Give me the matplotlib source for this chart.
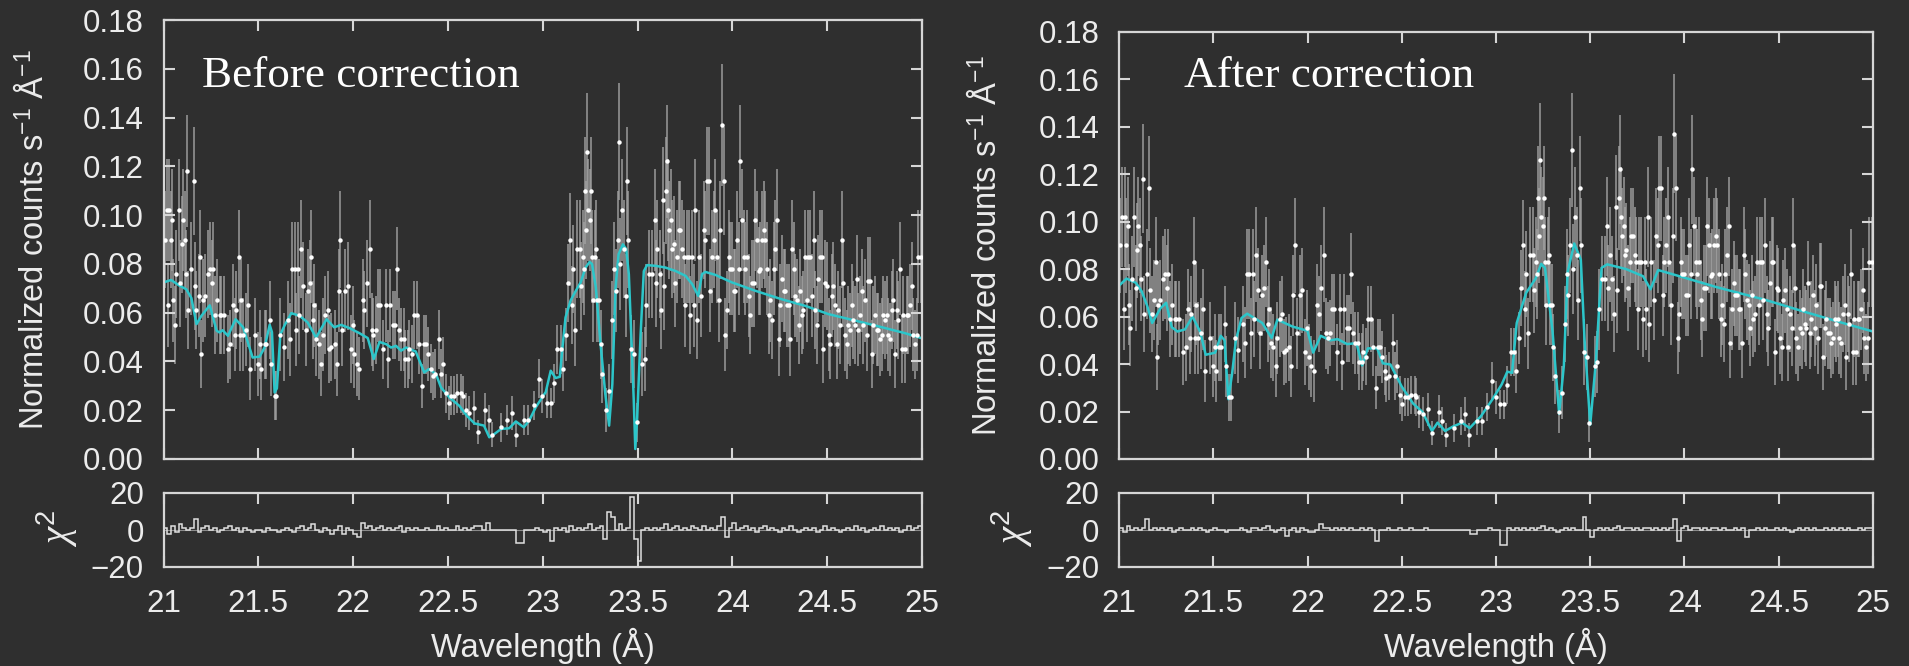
import numpy as np
import matplotlib
matplotlib.use("Agg")
import matplotlib.pyplot as plt
from matplotlib.ticker import FormatStrFormatter, FuncFormatter

plt.rcParams['font.family'] = ['Liberation Sans', 'DejaVu Sans']
plt.rcParams['mathtext.fontset'] = 'custom'
plt.rcParams['mathtext.rm'] = 'Liberation Sans'
plt.rcParams['mathtext.it'] = 'Liberation Serif:italic'

BG = "#2f2f2f"
FG = "#ececec"
SPINE = "#d6d6d6"
CYAN = "#2cc6ca"

# Observed spectrum (same data in both fits)
# wavelength offsets in mA from 21 A; flux and 1-sigma errors in 1e-3 counts/s/A
obs_wl_mA = [
    7, 16, 25, 30, 39, 47, 51, 60, 68, 82,
    89, 96, 103, 112, 118, 125, 130, 147, 160, 167,
    174, 186, 195, 200, 209, 219, 235, 244, 256, 261,
    270, 282, 296, 305, 317, 340, 353, 367, 375, 384,
    396, 402, 410, 419, 433, 446, 454, 481, 498, 507,
    516, 533, 542, 560, 568, 586, 595, 616, 633, 656,
    668, 679, 691, 700, 709, 717, 726, 738, 749, 761,
    770, 779, 788, 796, 805, 819, 831, 840, 854, 866,
    875, 884, 902, 914, 924, 933, 942, 959, 972, 989,
    998, 1007, 1021, 1033, 1051, 1059, 1072, 1089, 1098, 1107,
    1121, 1130, 1142, 1156, 1173, 1182, 1194, 1209, 1221, 1230,
    1244, 1252, 1266, 1275, 1287, 1296, 1308, 1323, 1335, 1349,
    1361, 1375, 1384, 1396, 1410, 1419, 1433, 1451, 1463, 1475,
    1489, 1503, 1515, 1533, 1547, 1568, 1577, 1594, 1612, 1638,
    1661, 1696, 1714, 1735, 1779, 1814, 1836, 1857, 1901, 1924,
    1954, 1980, 1998, 2021, 2042, 2059, 2077, 2094, 2107, 2121,
    2135, 2142, 2152, 2159, 2168, 2182, 2195, 2203, 2212, 2217,
    2221, 2230, 2235, 2240, 2249, 2253, 2258, 2267, 2275, 2282,
    2288, 2296, 2305, 2314, 2332, 2349, 2367, 2377, 2384, 2395,
    2402, 2410, 2419, 2428, 2437, 2446, 2451, 2465, 2481, 2496,
    2526, 2537, 2547, 2560, 2577, 2591, 2595, 2603, 2616, 2626,
    2635, 2642, 2651, 2656, 2661, 2668, 2677, 2682, 2691, 2700,
    2709, 2717, 2726, 2735, 2744, 2752, 2761, 2770, 2779, 2788,
    2796, 2805, 2814, 2823, 2837, 2849, 2858, 2866, 2875, 2884,
    2893, 2902, 2910, 2919, 2928, 2937, 2945, 2954, 2963, 2972,
    2980, 2989, 2998, 3007, 3016, 3024, 3033, 3042, 3051, 3059,
    3068, 3077, 3086, 3094, 3103, 3112, 3121, 3130, 3138, 3147,
    3156, 3165, 3173, 3182, 3191, 3200, 3209, 3217, 3226, 3235,
    3244, 3252, 3261, 3270, 3279, 3287, 3296, 3305, 3314, 3323,
    3331, 3340, 3349, 3358, 3366, 3375, 3384, 3393, 3401, 3410,
    3419, 3428, 3437, 3445, 3454, 3463, 3472, 3480, 3489, 3498,
    3507, 3515, 3524, 3533, 3542, 3551, 3559, 3568, 3577, 3586,
    3594, 3603, 3612, 3621, 3629, 3638, 3647, 3656, 3665, 3673,
    3682, 3691, 3700, 3708, 3717, 3726, 3735, 3743, 3752, 3761,
    3770, 3779, 3787, 3796, 3805, 3814, 3822, 3831, 3840, 3849,
    3857, 3866, 3875, 3884, 3893, 3901, 3910, 3919, 3928, 3936,
    3945, 3954, 3963, 3972, 3980, 3996,
]
obs_flux = [
    90, 102, 63, 102, 90, 98, 65, 55, 76, 102,
    72, 88, 98, 90, 76, 118, 61, 78, 114, 71,
    61, 67, 83, 43, 65, 67, 76, 78, 72, 78,
    59, 65, 59, 59, 59, 45, 47, 63, 51, 61,
    83, 51, 65, 51, 53, 63, 37, 51, 39, 47,
    37, 47, 47, 57, 39, 26, 26, 51, 46, 57,
    49, 78, 78, 53, 78, 59, 86, 71, 53, 69,
    72, 83, 57, 63, 49, 47, 39, 51, 59, 61,
    45, 46, 47, 39, 69, 90, 53, 69, 71, 45,
    55, 43, 39, 37, 65, 61, 72, 86, 53, 51,
    53, 63, 63, 45, 63, 41, 63, 55, 55, 78,
    53, 49, 49, 41, 41, 45, 43, 59, 59, 47,
    30, 47, 47, 43, 37, 34, 35, 49, 35, 39,
    27, 23, 26, 26, 27, 27, 26, 20, 19, 21,
    11, 20, 16, 10, 13, 16, 19, 10, 16, 16,
    22, 33, 26, 23, 23, 31, 45, 45, 37, 51,
    72, 90, 63, 78, 53, 86, 86, 71, 83, 78,
    110, 94, 126, 102, 98, 110, 83, 65, 83, 86,
    65, 65, 47, 35, 20, 28, 57, 78, 69, 90,
    130, 80, 102, 86, 67, 114, 90, 45, 43, 15,
    39, 41, 63, 76, 76, 98, 72, 86, 76, 61,
    106, 71, 110, 122, 102, 94, 98, 86, 88, 72,
    83, 94, 94, 86, 83, 63, 83, 83, 59, 83,
    63, 102, 57, 83, 67, 94, 90, 114, 114, 69,
    83, 90, 102, 83, 65, 94, 137, 114, 51, 61,
    83, 78, 78, 69, 69, 90, 78, 122, 98, 83,
    78, 83, 67, 59, 72, 72, 98, 90, 77, 78,
    90, 94, 90, 78, 59, 65, 57, 78, 86, 98,
    49, 63, 74, 69, 69, 63, 63, 49, 86, 78,
    67, 65, 55, 69, 59, 61, 83, 65, 83, 83,
    67, 90, 61, 55, 74, 83, 83, 45, 72, 71,
    51, 47, 67, 71, 63, 47, 61, 55, 90, 72,
    51, 47, 55, 53, 63, 57, 55, 74, 53, 59,
    69, 55, 65, 51, 73, 73, 43, 55, 59, 53,
    53, 49, 51, 59, 57, 59, 51, 49, 61, 65,
    43, 61, 57, 78, 45, 59, 45, 59, 59, 63,
    71, 51, 47, 51, 83, 83,
]
obs_err = [
    20, 21, 17, 21, 20, 21, 17, 16, 18, 21,
    18, 20, 21, 20, 18, 23, 16, 19, 22, 18,
    16, 17, 19, 14, 17, 17, 18, 19, 18, 19,
    16, 17, 16, 16, 16, 14, 14, 17, 15, 16,
    19, 15, 17, 15, 15, 17, 13, 15, 13, 14,
    13, 14, 14, 16, 13, 10, 10, 15, 14, 16,
    15, 19, 19, 15, 19, 16, 20, 18, 15, 17,
    18, 19, 16, 17, 15, 14, 13, 15, 16, 16,
    14, 14, 14, 13, 17, 20, 15, 17, 18, 14,
    16, 14, 13, 13, 17, 16, 18, 20, 15, 15,
    14, 15, 15, 12, 15, 12, 15, 14, 14, 17,
    13, 13, 13, 12, 12, 12, 12, 14, 14, 12,
    9, 12, 12, 11, 10, 10, 10, 12, 10, 11,
    8, 7, 8, 8, 8, 8, 8, 7, 7, 7,
    5, 7, 6, 5, 6, 6, 7, 5, 6, 6,
    6, 8, 7, 6, 6, 8, 10, 10, 9, 11,
    16, 19, 16, 18, 15, 20, 20, 18, 19, 19,
    22, 20, 24, 21, 21, 22, 19, 17, 19, 20,
    17, 17, 14, 12, 9, 11, 16, 19, 17, 20,
    24, 19, 21, 20, 17, 22, 20, 14, 14, 8,
    13, 13, 17, 18, 18, 21, 18, 20, 18, 16,
    22, 18, 22, 23, 21, 20, 21, 20, 20, 18,
    19, 20, 20, 20, 19, 17, 19, 19, 16, 19,
    17, 21, 16, 19, 17, 20, 20, 22, 22, 17,
    19, 20, 21, 19, 17, 20, 25, 22, 15, 16,
    19, 19, 19, 17, 17, 20, 19, 23, 21, 19,
    19, 19, 17, 16, 18, 18, 21, 20, 18, 19,
    20, 20, 20, 19, 16, 17, 16, 19, 20, 21,
    15, 17, 18, 17, 17, 17, 17, 15, 20, 19,
    17, 17, 16, 17, 16, 16, 19, 17, 19, 19,
    17, 20, 16, 16, 18, 19, 19, 14, 18, 18,
    15, 14, 17, 18, 17, 14, 16, 16, 20, 18,
    15, 14, 16, 15, 17, 16, 16, 18, 15, 16,
    17, 16, 17, 15, 18, 18, 14, 16, 16, 15,
    15, 15, 15, 16, 16, 16, 15, 15, 16, 17,
    14, 16, 16, 19, 14, 16, 14, 16, 16, 17,
    18, 15, 14, 15, 19, 19,
]

# Best-fit model before the correction (wavelength in A, flux in 1e-3)
model_before_wl = [
    21.000, 21.040, 21.086, 21.120, 21.147, 21.174, 21.200, 21.244, 21.280, 21.295,
    21.312, 21.340, 21.380, 21.420, 21.470, 21.507, 21.533, 21.560, 21.572, 21.586,
    21.598, 21.616, 21.640, 21.674, 21.718, 21.760, 21.805, 21.820, 21.860, 21.900,
    21.937, 21.980, 22.033, 22.077, 22.109, 22.139, 22.174, 22.200, 22.226, 22.253,
    22.279, 22.330, 22.375, 22.400, 22.437, 22.463, 22.507, 22.560, 22.600, 22.640,
    22.690, 22.718, 22.744, 22.780, 22.823, 22.858, 22.900, 22.928, 22.963, 23.016,
    23.042, 23.068, 23.090, 23.104, 23.120, 23.147, 23.174, 23.200, 23.226, 23.247,
    23.260, 23.280, 23.305, 23.330, 23.350, 23.367, 23.384, 23.400, 23.423, 23.440,
    23.454, 23.468, 23.480, 23.488, 23.498, 23.516, 23.533, 23.550, 23.595, 23.647,
    23.700, 23.753, 23.788, 23.820, 23.840, 23.858, 23.910, 23.998, 24.120, 24.260,
    24.384, 24.507, 24.650, 24.790, 24.910, 25.000,
]
model_before = [
    72.4, 73.4, 71.0, 69.6, 66.0, 55.3, 58.7, 63.0, 52.6, 51.9,
    52.8, 50.5, 57.3, 54.0, 41.6, 42.0, 45.7, 55.0, 52.0, 27.3,
    29.0, 51.0, 55.0, 59.8, 58.7, 56.0, 49.8, 51.9, 57.3, 54.0,
    55.0, 53.7, 51.6, 49.6, 41.0, 48.0, 47.1, 45.7, 46.4, 44.4,
    45.7, 44.1, 35.5, 36.9, 34.8, 29.4, 25.3, 21.8, 17.7, 14.6,
    13.7, 8.9, 10.2, 12.3, 12.6, 15.4, 13.0, 15.7, 21.2, 27.5,
    36.2, 33.2, 33.7, 45.7, 58.0, 65.0, 68.9, 72.4, 78.5, 80.8,
    79.9, 70.3, 47.0, 26.6, 13.7, 30.7, 70.3, 84.0, 88.0, 86.0,
    75.8, 48.5, 23.9, 4.1, 17.0, 51.0, 77.0, 79.5, 79.2, 78.5,
    77.1, 75.1, 71.7, 66.9, 75.8, 76.7, 75.5, 72.4, 69.0, 65.5,
    62.8, 59.4, 56.7, 54.0, 51.6, 49.5,
]

# Best-fit model after the correction
model_after_wl = [
    21.000, 21.040, 21.090, 21.120, 21.150, 21.176, 21.220, 21.250, 21.280, 21.310,
    21.350, 21.390, 21.430, 21.460, 21.510, 21.540, 21.560, 21.580, 21.600, 21.620,
    21.650, 21.680, 21.760, 21.810, 21.840, 21.920, 22.000, 22.030, 22.070, 22.120,
    22.160, 22.210, 22.260, 22.290, 22.320, 22.370, 22.400, 22.440, 22.500, 22.560,
    22.610, 22.660, 22.690, 22.730, 22.770, 22.820, 22.860, 22.920, 22.980, 23.030,
    23.060, 23.085, 23.110, 23.160, 23.210, 23.240, 23.260, 23.300, 23.335, 23.360,
    23.380, 23.415, 23.450, 23.470, 23.500, 23.530, 23.560, 23.590, 23.690, 23.780,
    23.820, 23.860, 23.960, 24.170, 24.430, 24.650, 24.840, 25.000,
]
model_after = [
    73.0, 76.0, 74.2, 70.7, 64.4, 57.3, 63.5, 65.8, 55.5, 53.7,
    54.6, 60.0, 53.7, 43.9, 44.8, 51.9, 50.0, 25.2, 35.9, 50.0,
    59.4, 61.2, 57.3, 51.0, 58.7, 55.8, 54.0, 44.8, 51.9, 50.0,
    50.5, 48.4, 48.8, 39.4, 46.6, 46.6, 40.3, 39.8, 30.5, 23.4,
    19.8, 11.8, 15.3, 11.8, 13.6, 15.3, 13.0, 18.0, 25.0, 31.4,
    36.8, 36.3, 57.3, 70.0, 76.0, 82.2, 80.5, 53.7, 19.0, 39.4,
    78.7, 90.8, 84.0, 50.0, 14.5, 41.2, 80.5, 82.0, 80.0, 77.0,
    71.5, 79.6, 77.3, 72.4, 67.0, 61.7, 57.3, 53.7,
]

# Signed chi^2 contributions in 0.02 A bins from 21 to 25 A
resid_before = [
    1, -2, 2, -1, 3, 1, 0, 1, 6, -1,
    1, 2, 0, 1, -1, 0, 1, 2, 0, 1,
    -1, 1, 0, -1, 0, 0, -1, 1, 0, 0,
    -1, 0, 1, 0, -1, 1, 2, 0, 1, 3,
    0, -1, 1, 0, -2, 0, 2, -2, 1, 0,
    -2, -4, 4, 1, 2, 0, 1, 2, 0, 1,
    0, 1, 2, -1, 1, 0, 1, 0, 0, 1,
    0, 0, 2, 0, 1, 0, 0, 2, 0, 1,
    0, 1, 2, 2, 0, 4, 0, 0, 0, 0,
    0, 0, 0, -7, -7, 0, 0, 0, 1, 0,
    -1, 0, -6, 1, 0, 1, -1, 2, 0, 1,
    0, 1, 3, 0, 1, 2, -5, 10, 7, 0,
    3, 0, 1, 18, -5, -17, 0, 1, 0, 1,
    0, 1, 3, 0, 1, 2, 0, 1, 0, 2,
    1, 0, 2, 0, 1, 0, 2, 7, -4, 1,
    4, 0, 1, 2, 0, 1, -1, 1, 2, 0,
    1, 0, -1, 1, 0, 2, 0, -1, 0, 1,
    0, 1, -1, 0, 2, 0, 1, 0, -1, 0,
    1, 0, 2, 0, 1, -1, 0, 1, 0, 2,
    0, 1, 0, 1, -1, 0, 2, 0, 1, 2,
]
resid_after = [
    1, -1, 2, 0, 1, 0, 1, 6, 0, 1,
    0, 1, 0, 1, -1, 0, 1, 0, 0, 1,
    0, 1, 0, -1, 0, 1, 0, 0, -1, 0,
    0, 0, 1, 0, -1, 1, 1, 0, 1, 2,
    0, -1, 0, 1, -3, 0, 1, -1, 1, 0,
    -1, -1, 0, 3, 1, 1, 0, 1, 0, 1,
    0, 1, 0, 0, 1, 0, 1, 0, -6, 0,
    0, 1, 0, 0, 1, 0, 0, 1, 0, 0,
    0, 1, 0, 0, 0, 0, 0, 0, 0, 0,
    0, 0, 0, -2, -2, 0, 0, 0, 1, 0,
    0, -8, -8, 1, 0, 1, 0, 1, 0, 1,
    0, 1, 2, 0, 1, 0, -1, 0, 1, 0,
    1, 0, 0, 7, 0, -4, 0, 1, 0, 1,
    0, 1, 2, 0, 1, 1, 0, 1, 0, 1,
    1, 0, 1, 0, 1, 0, 1, 6, -6, 1,
    2, 0, 1, 1, 0, 1, 0, 1, 1, 0,
    1, 0, 0, 1, 0, 1, -4, 0, 0, 1,
    0, 1, 0, 0, 1, 0, 1, 0, -1, 0,
    1, 0, 1, 0, 1, 0, 0, 1, 0, 1,
    0, 1, 0, 1, 0, 0, 1, 0, 1, 1,
]

panel_titles = ["Before correction", "After correction"]
x_ticks = [21, 21.5, 22, 22.5, 23, 23.5, 24, 24.5, 25]
y_ticks = [0.00, 0.02, 0.04, 0.06, 0.08, 0.10, 0.12, 0.14, 0.16, 0.18]
r_ticks = [-20, 0, 20]

wl = 21.0 + np.array(obs_wl_mA) / 1000.0
flux = np.array(obs_flux) * 1e-3
err = np.array(obs_err) * 1e-3

W, H = 1909, 666
fig = plt.figure(figsize=(W / 100, H / 100), dpi=100, facecolor=BG)

TICK_FS = 22.5
LABEL_FS = 23.5


def add_px_axes(left, top, right, bottom):
    ax = fig.add_axes([left / W, 1 - bottom / H, (right - left) / W, (bottom - top) / H])
    ax.set_facecolor(BG)
    for s in ax.spines.values():
        s.set_color(SPINE)
        s.set_linewidth(1.6)
    ax.tick_params(direction="in", top=True, right=True, length=8, width=1.5,
                   color=SPINE, labelcolor=FG, labelsize=TICK_FS)
    return ax


def fmt_wl(v, pos):
    return f"{v:g}"


panels = [
    dict(main=(163.5, 20, 922, 459), res=(163.5, 493, 922, 567),
         mwl=model_before_wl, mfl=model_before, resid=resid_before,
         title_xy=(202, 87), ylab_x=33, chi_x=57, title=panel_titles[0]),
    dict(main=(1119, 31.7, 1873, 459), res=(1119, 493, 1873, 567),
         mwl=model_after_wl, mfl=model_after, resid=resid_after,
         title_xy=(1184, 87), ylab_x=986, chi_x=1012, title=panel_titles[1]),
]

edges = np.linspace(21.0, 25.0, 201)

for p in panels:
    ax = add_px_axes(*p["main"])
    ax.errorbar(wl, flux, yerr=err, fmt="none", ecolor="#a4a4a4",
                elinewidth=1.2, alpha=0.85, zorder=1)
    ax.plot(np.array(p["mwl"]), np.array(p["mfl"]) * 1e-3, color=CYAN, lw=1.8, zorder=2)
    ax.plot(wl, flux, "o", ms=3.2, color="white", mec="none", zorder=3)
    ax.set_xlim(21, 25)
    ax.set_ylim(0, 0.18)
    ax.set_xticks(x_ticks)
    ax.set_yticks(y_ticks)
    ax.yaxis.set_major_formatter(FormatStrFormatter("%.2f"))
    ax.tick_params(axis="x", labelbottom=False)
    ax.tick_params(axis="y", pad=14)

    rx = add_px_axes(*p["res"])
    rx.axhline(0, color="#8a8a8a", lw=0.8, zorder=1)
    rx.stairs(np.array(p["resid"], dtype=float), edges, color="#e0e0e0", lw=1.1, zorder=2)
    rx.set_xlim(21, 25)
    rx.set_ylim(-20, 20)
    rx.set_xticks(x_ticks)
    rx.set_yticks(r_ticks)
    rx.tick_params(axis="y", right=False, left=False, pad=14)
    rx.tick_params(axis="x", pad=16)
    rx.xaxis.set_major_formatter(FuncFormatter(fmt_wl))

    l, t, r, b = p["main"]
    fig.text(p["ylab_x"] / W, 1 - ((t + b) / 2) / H,
             r"Normalized counts s$^{-1}$ Å$^{-1}$", rotation=90,
             ha="center", va="center", fontsize=LABEL_FS, color=FG)
    fig.text(p["chi_x"] / W, 1 - 528 / H, r"$\chi^{2}$", rotation=90,
             ha="center", va="center", fontsize=28, color=FG)
    fig.text(((l + r) / 2) / W, 1 - 646 / H, "Wavelength (Å)",
             ha="center", va="center", fontsize=LABEL_FS, color=FG)
    tx, ty = p["title_xy"]
    fig.text(tx / W, 1 - ty / H, p["title"], ha="left", va="baseline",
             fontsize=32.5, color="white", family=["Liberation Serif", "DejaVu Serif"])

fig.savefig("out.png", dpi=100, facecolor=BG)
